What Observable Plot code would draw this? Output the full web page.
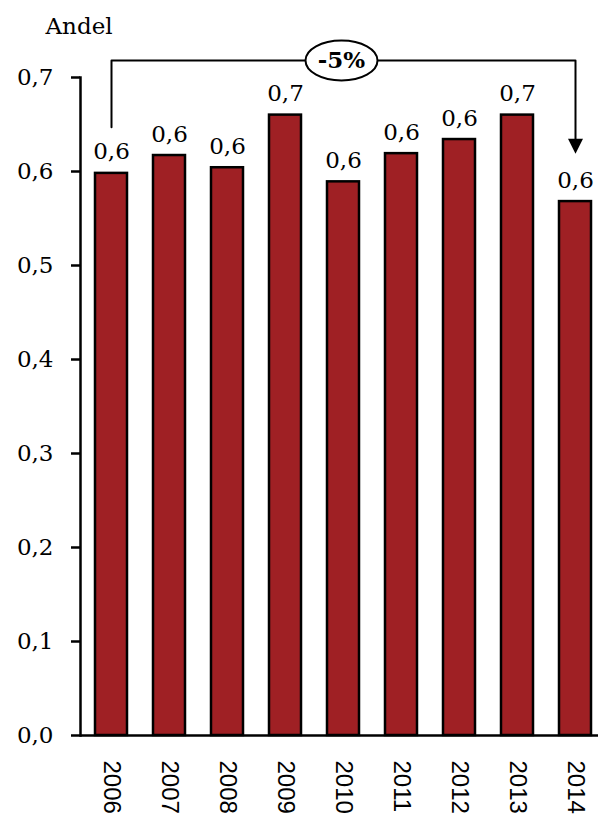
<!DOCTYPE html>
<html>
<head>
<meta charset="utf-8">
<script src="https://cdn.jsdelivr.net/npm/d3@7"></script>
<script src="https://cdn.jsdelivr.net/npm/@observablehq/plot@0.6"></script>
<style>
  html, body { margin: 0; padding: 0; background: white; }
</style>
</head>
<body>
<div id="chart"></div>
<script>
// Data
const years = ["2006", "2007", "2008", "2009", "2010", "2011", "2012", "2013", "2014"];
const shares = [0.598, 0.617, 0.604, 0.660, 0.589, 0.619, 0.634, 0.660, 0.568];
const yTicks = [0, 0.1, 0.2, 0.3, 0.4, 0.5, 0.6, 0.7];
const yTitle = "Andel";
const changeLabel = "-5%";
// Annotation bracket (in data units): from 2006 to 2014
const bracketYears = ["2006", "2006", "2014", "2014"];
const bracketLevels = [0.647, 0.718, 0.718, 0.628];
const arrowTip = 0.619;

const fmt = v => v.toFixed(1).replace(".", ",");
const data = years.map((y, i) => ({year: y, value: shares[i]}));
const bracket = bracketYears.map((y, i) => ({year: y, value: bracketLevels[i]}));

const ellipse = {
  draw(ctx) {
    const rx = 36, ry = 20, k = 0.5523;
    ctx.moveTo(-rx, 0);
    ctx.bezierCurveTo(-rx, -ry * k, -rx * k, -ry, 0, -ry);
    ctx.bezierCurveTo(rx * k, -ry, rx, -ry * k, rx, 0);
    ctx.bezierCurveTo(rx, ry * k, rx * k, ry, 0, ry);
    ctx.bezierCurveTo(-rx * k, ry, -rx, ry * k, -rx, 0);
    ctx.closePath();
  }
};
const arrowHead = {
  draw(ctx) {
    ctx.moveTo(0, 0);
    ctx.lineTo(-7.5, -15);
    ctx.lineTo(7.5, -15);
    ctx.closePath();
  }
};

const chart = Plot.plot({
  width: 598,
  height: 820,
  marginLeft: 80,
  marginRight: 0,
  marginTop: 77,
  marginBottom: 85,
  style: {fontFamily: "DejaVu Serif", fontSize: "23px", background: "white", color: "black", overflow: "visible"},
  x: {domain: years, paddingInner: 0.453, paddingOuter: 0.154, align: 0.667, label: null},
  y: {domain: [0, 0.7], label: null},
  marks: [
    Plot.barY(data, {x: "year", y: "value", fill: "#9f2024", stroke: "black", strokeWidth: 2.5}),
    Plot.text(data, {x: "year", y: "value", text: d => fmt(d.value), lineAnchor: "bottom", dy: -14, fontSize: 23, fontFamily: "DejaVu Serif"}),
    Plot.axisY({ticks: yTicks, tickFormat: fmt, tickSize: 9, tickPadding: 18, strokeWidth: 2.5, fontSize: 23, fontFamily: "DejaVu Serif", label: null}),
    Plot.axisX({tickRotate: 90, tickSize: 0, tickPadding: 25, fontFamily: "Liberation Sans", fontSize: 24, label: null}),
    Plot.frame({anchor: "left", strokeWidth: 2.5}),
    Plot.ruleY([0], {strokeWidth: 2.5}),
    Plot.line(bracket, {x: "year", y: "value", stroke: "black", strokeWidth: 2}),
    Plot.dot([{year: "2014", value: arrowTip}], {x: "year", y: "value", symbol: arrowHead, r: 10, fill: "black", stroke: "none"}),
    Plot.dot([{year: "2010", value: bracketLevels[1]}], {x: "year", y: "value", symbol: ellipse, r: 10, fill: "white", stroke: "black", strokeWidth: 2, dx: -2}),
    Plot.text([changeLabel], {x: () => "2010", y: () => bracketLevels[1], text: d => d, fontWeight: "bold", fontSize: 23, fontFamily: "DejaVu Serif", dx: -2}),
    Plot.text([yTitle], {frameAnchor: "top-left", textAnchor: "start", lineAnchor: "bottom", dx: -35, dy: -44, fontSize: 23, fontFamily: "DejaVu Serif"})
  ]
});
document.getElementById("chart").appendChild(chart);
</script>
</body>
</html>
